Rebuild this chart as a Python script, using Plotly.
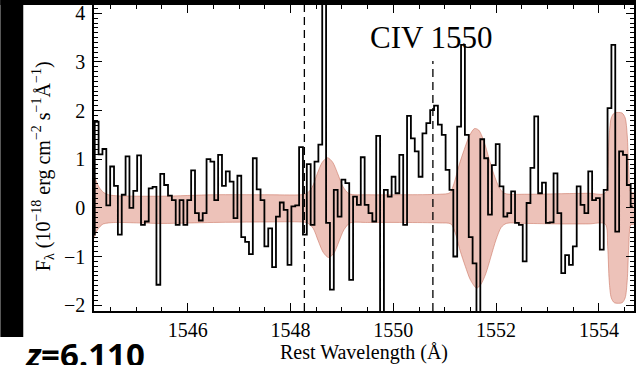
import plotly.graph_objects as go

# ---------------- data ----------------
wave_start = 1544.155   # centre of first pixel (Angstrom, rest frame)
wave_step = 0.075       # pixel width (Angstrom)

flux = [
    -0.55, 1.77, 1.10, 1.21, 0.05, 0.85, 0.45, -0.55, 0.27, 1.06,
    0.00, 0.35, 1.08, -0.35, -0.28, 0.40, 0.43, -1.58, 0.70, 0.47,
    0.25, 0.16, -0.35, 0.16, -0.35, 0.16, 0.77, -0.11, -0.26, -0.11,
    1.00, 0.95, 0.16, 1.09, 0.45, 0.75, 0.54, -0.21, 0.66, -0.60,
    -0.70, -0.95, 1.02, 0.38, 0.16, -0.79, -0.42, -1.22, -0.18, 0.11,
    -0.04, -1.17, 0.03, 0.05, 1.25, -0.55, 0.90, -0.35, 0.95, 1.30,
    4.60, -0.31, -1.68, 0.37, -0.18, 0.58, 0.51, -1.48, 0.23, 0.06,
    1.04, 0.06, -0.11, -0.28, 1.48, -2.40, 0.37, 0.23, 0.64, 0.30,
    1.09, -0.35, 1.89, 1.43, 1.16, 0.64, 1.53, 1.74, 2.01, 2.10,
    1.71, 1.50, 0.78, 0.37, -1.00, 1.67, 3.35, 1.50, -0.60, -1.14,
    -2.40, 1.41, 1.02, -0.14, 0.88, 1.31, 0.44, -0.18, -0.11, 0.34,
    -0.31, -0.35, -1.10, 0.10, 0.82, 1.88, 0.30, 0.52, -0.31, -0.30,
    0.71, -0.11, -1.34, -0.97, -1.17, -0.79, 0.44, 0.06, -0.11, 0.75,
    0.16, 0.20, -0.86, 0.37, 2.05, 3.35, -0.49, 1.16, 1.09, 0.47,
    0.03,
]

# upper edge of the error band
band_up_wave = [
    1544.17, 1544.22, 1544.28, 1544.36, 1544.46, 1544.60, 1545.50, 1546.50,
    1547.50, 1548.20, 1548.31, 1548.42, 1548.52, 1548.62, 1548.72, 1548.82,
    1548.92, 1549.02, 1549.14, 1549.50, 1550.20, 1550.90, 1551.10, 1551.18,
    1551.28, 1551.38, 1551.48, 1551.58, 1551.66, 1551.76, 1551.86, 1551.96,
    1552.06, 1552.16, 1552.60, 1553.20, 1553.80, 1554.12, 1554.17, 1554.20,
    1554.24, 1554.30, 1554.45, 1554.51, 1554.55, 1554.58, 1554.62, 1554.69,
]
band_up = [
    0.72, 0.55, 0.42, 0.32, 0.27, 0.25, 0.24, 0.27,
    0.27, 0.27, 0.29, 0.42, 0.70, 0.94, 1.03, 0.94,
    0.70, 0.44, 0.29, 0.27, 0.27, 0.28, 0.31, 0.50,
    0.88, 1.20, 1.48, 1.63, 1.60, 1.38, 1.02, 0.68,
    0.42, 0.30, 0.28, 0.29, 0.30, 0.30, 0.80, 1.50,
    1.85, 1.95, 1.95, 1.85, 1.50, 0.80, 0.32, 0.30,
]
# lower edge of the error band
band_lo_wave = [
    1544.17, 1544.22, 1544.28, 1544.36, 1544.46, 1544.60, 1545.50, 1546.50,
    1547.50, 1548.20, 1548.33, 1548.44, 1548.54, 1548.64, 1548.74, 1548.84,
    1548.94, 1549.04, 1549.16, 1549.50, 1550.20, 1550.90, 1551.12, 1551.20,
    1551.30, 1551.40, 1551.50, 1551.62, 1551.70, 1551.80, 1551.90, 1552.00,
    1552.10, 1552.20, 1552.60, 1553.20, 1553.80, 1554.12, 1554.17, 1554.20,
    1554.24, 1554.30, 1554.45, 1554.51, 1554.55, 1554.58, 1554.62, 1554.69,
]
band_lo = [
    -0.64, -0.50, -0.40, -0.33, -0.31, -0.30, -0.32, -0.30,
    -0.29, -0.29, -0.31, -0.42, -0.68, -0.92, -1.02, -0.94,
    -0.70, -0.45, -0.31, -0.30, -0.30, -0.31, -0.33, -0.50,
    -0.88, -1.20, -1.48, -1.65, -1.58, -1.35, -1.00, -0.65,
    -0.40, -0.32, -0.32, -0.33, -0.33, -0.33, -0.80, -1.50,
    -1.85, -1.95, -1.95, -1.85, -1.50, -0.80, -0.35, -0.33,
]

civ_lines = [1548.27, 1550.77]
civ_line_top = [4.17, 3.02]
x_ticks = [1546, 1548, 1550, 1552, 1554]
y_ticks = [-2, -1, 0, 1, 2, 3, 4]

# ---------------- layout geometry ----------------
W, H = 638, 365
ML, MR, MT, MB = 94, 2, 5, 54
PW, PH = W - ML - MR, H - MT - MB
XR = [1544.178, 1554.682]
YR = [-2.12, 4.17]


def px_x(px):
    return (px - ML) / PW


def px_y(py):
    return (H - MB - py) / PH


wave = [wave_start + wave_step * i for i in range(len(flux))]

fig = go.Figure()

# error band
fig.add_trace(go.Scatter(
    x=band_up_wave + band_lo_wave[::-1],
    y=band_up + band_lo[::-1],
    mode="lines",
    fill="toself",
    fillcolor="rgba(214,120,100,0.45)",
    line=dict(color="rgba(200,110,90,0.55)", width=1, shape="spline", smoothing=0.8),
    hoverinfo="skip",
    showlegend=False,
))

# spectrum
fig.add_trace(go.Scatter(
    x=wave, y=flux, mode="lines",
    line=dict(color="black", width=1.8, shape="hvh"),
    showlegend=False,
))

# dashed CIV lines
for lam, top in zip(civ_lines, civ_line_top):
    fig.add_trace(go.Scatter(
        x=[lam, lam], y=[YR[0], top], mode="lines",
        line=dict(color="black", width=1.3, dash="8px,5px"),
        showlegend=False, hoverinfo="skip",
    ))

serif = "Liberation Serif, Times New Roman, serif"

fig.update_layout(
    width=W, height=H,
    margin=dict(l=ML, r=MR, t=MT, b=MB),
    paper_bgcolor="white",
    plot_bgcolor="white",
    font=dict(family=serif, color="black", size=20),
    xaxis=dict(
        range=XR, showgrid=False, zeroline=False,
        showline=True, linecolor="black", linewidth=1.5, mirror="ticks",
        ticks="inside", tickvals=x_ticks, ticklen=8, tickwidth=1.2, tickcolor="black",
        ticklabelstandoff=0,
        tickfont=dict(family=serif, size=20, color="black"),
        minor=dict(ticks="inside", dtick=0.5, tick0=1546, ticklen=4, tickwidth=1, tickcolor="black"),
    ),
    yaxis=dict(
        range=YR, showgrid=False, zeroline=False,
        showline=True, linecolor="black", linewidth=1.5, mirror="ticks",
        ticks="inside", tickvals=y_ticks, ticklen=8, tickwidth=1.2, tickcolor="black",
        ticklabelstandoff=3,
        tickfont=dict(family=serif, size=20, color="black"),
        minor=dict(ticks="inside", dtick=0.1, tick0=0, ticklen=4, tickwidth=1, tickcolor="black"),
    ),
    shapes=[
        dict(type="rect", xref="paper", yref="paper", layer="above",
             x0=px_x(0), x1=px_x(23), y0=px_y(337), y1=px_y(0),
             fillcolor="black", line=dict(width=0)),
        dict(type="rect", xref="paper", yref="paper", layer="above",
             x0=px_x(0), x1=px_x(W), y0=px_y(5), y1=px_y(0),
             fillcolor="black", line=dict(width=0)),
    ],
    annotations=[
        dict(text="CIV 1550", xref="x", yref="y", x=1550.75, y=3.50,
             showarrow=False, font=dict(family=serif, size=31, color="black"),
             xanchor="center", yanchor="middle"),
        dict(text="Rest Wavelength (Å)", xref="paper", yref="paper",
             x=0.5, y=px_y(352), showarrow=False,
             font=dict(family=serif, size=20, color="black"),
             xanchor="center", yanchor="middle"),
        dict(text="F<sub>λ</sub> (10<sup>−18</sup> erg cm<sup>−2</sup> s<sup>−1</sup>Å<sup>−1</sup>)",
             xref="paper", yref="paper", x=px_x(43), y=px_y(166), textangle=-90,
             showarrow=False, font=dict(family=serif, size=20, color="black"),
             xanchor="center", yanchor="middle"),
        dict(text="<b><i>z</i>=6.110</b>", xref="paper", yref="paper",
             x=px_x(23), y=px_y(330), showarrow=False,
             font=dict(family="Open Sans, Arial, sans-serif", size=33, color="black"),
             xanchor="left", yanchor="top"),
    ],
)

fig.write_html("out.html")
